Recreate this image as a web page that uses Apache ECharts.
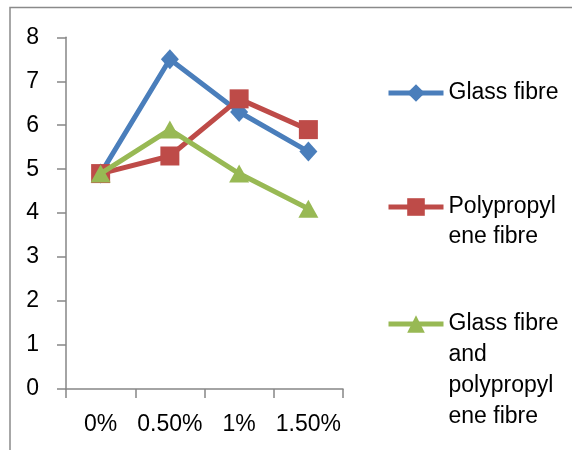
<!DOCTYPE html>
<html><head><meta charset="utf-8">
<script src="https://cdn.jsdelivr.net/npm/echarts@6/dist/echarts.min.js"></script>
<style>html,body{margin:0;padding:0;background:#fff}#c{width:572px;height:450px}</style>
</head><body><div id="c"></div>
<script>
var categories = ['0%', '0.50%', '1%', '1.50%'];
var glassFibre = [4.9, 7.5, 6.3, 5.4];
var ppFibre = [4.9, 5.3, 6.6, 5.9];
var glassPpFibre = [4.9, 5.9, 4.9, 4.1];
var seriesNames = ['Glass fibre', 'Polypropylene fibre', 'Glass fibre and polypropylene fibre'];
var legendLabels = ['Glass fibre', 'Polypropyl\nene fibre', 'Glass fibre\nand\npolypropyl\nene fibre'];
var yTicks = [0, 1, 2, 3, 4, 5, 6, 7, 8];

var FONT = '"Liberation Sans", Arial, sans-serif';
var FS = 23;
var colors = ['#4A7EBB', '#BE4B48', '#98B954'];
var symbols = ['diamond', 'rect', 'triangle'];
var symSizes = [[18, 20], 19, [20, 18]];
var iconCenters = [93, 207, 324];
var lineHeights = [30, 30, 31];

var chart = echarts.init(document.getElementById('c'));
function legendFor(i) {
  var n = legendLabels[i].split('\n').length;
  var LH = lineHeights[i];
  var pre = new Array(n).join('\n'); // n-1 blank lines so the first line aligns with the icon
  return {
    data: [seriesNames[i]],
    left: 386, top: iconCenters[i] - (2 * n - 1) * LH / 2,
    padding: 0,
    orient: 'vertical',
    itemWidth: 55, itemHeight: 22, itemGap: 0,
    formatter: function () { return pre + legendLabels[i]; },
    lineStyle: {width: 5},
    textStyle: {fontFamily: FONT, fontSize: FS, color: '#000', lineHeight: LH},
    selectedMode: false
  };
}
var option = {
  animation: false,
  color: colors,
  grid: {left: 66, right: 229, top: 37.3, bottom: 61, containLabel: false},
  legend: [legendFor(0), legendFor(1), legendFor(2)],
  graphic: [{
    type: 'polyline', silent: true,
    shape: {points: [[10, 450], [10, 7.5], [572, 7.5]]},
    style: {stroke: '#8a8a8a', lineWidth: 1.5, fill: null}
  }],
  xAxis: {
    type: 'category', data: categories, boundaryGap: true,
    axisLine: {lineStyle: {color: '#868686', width: 1.5}},
    axisTick: {show: true, inside: false, length: 9, alignWithLabel: false, lineStyle: {color: '#868686', width: 1.5}},
    axisLabel: {fontFamily: FONT, fontSize: FS, color: '#000', margin: 24, interval: 0},
    splitLine: {show: false}
  },
  yAxis: {
    type: 'value', min: yTicks[0], max: yTicks[yTicks.length - 1], interval: 1,
    axisLine: {show: true, lineStyle: {color: '#868686', width: 1.5}},
    axisTick: {show: true, inside: false, length: 9, lineStyle: {color: '#868686', width: 1.5}},
    axisLabel: {fontFamily: FONT, fontSize: FS, color: '#000', margin: 27},
    splitLine: {show: false}
  },
  series: [glassFibre, ppFibre, glassPpFibre].map(function (d, i) {
    return {
      name: seriesNames[i], type: 'line', data: d,
      symbol: symbols[i], symbolSize: symSizes[i],
      lineStyle: {width: 5, color: colors[i]},
      itemStyle: {color: colors[i]},
      z: 2 + i
    };
  })
};
chart.setOption(option);
</script></body></html>
